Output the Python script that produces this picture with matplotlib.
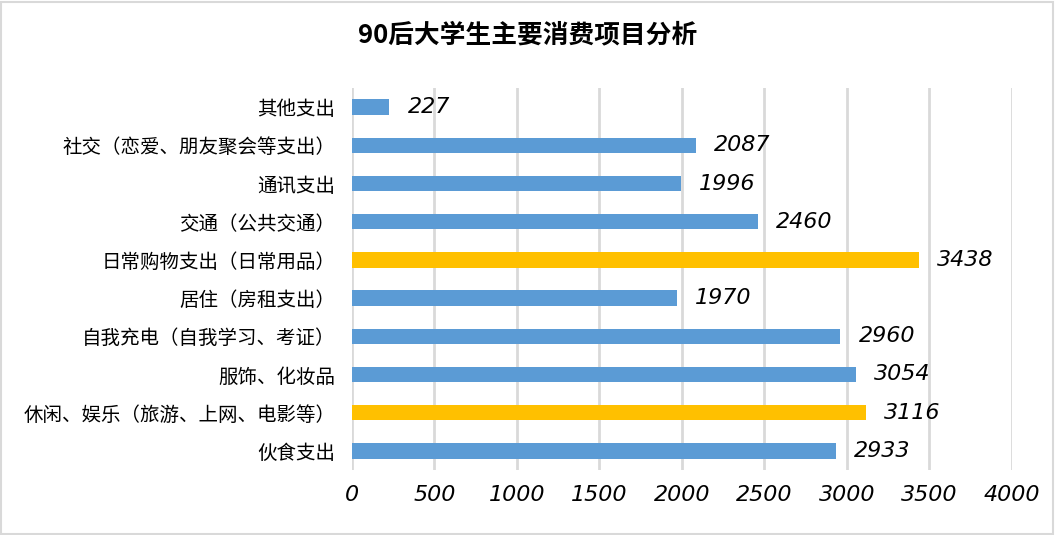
import matplotlib.pyplot as plt
from matplotlib.patches import Rectangle

plt.rcParams['font.family'] = ['Noto Sans CJK SC', 'DejaVu Sans']

categories = ["伙食支出", "休闲、娱乐（旅游、上网、电影等）", "服饰、化妆品",
              "自我充电（自我学习、考证）", "居住（房租支出）", "日常购物支出（日常用品）",
              "交通（公共交通）", "通讯支出", "社交（恋爱、朋友聚会等支出）", "其他支出"]
values = [2933, 3116, 3054, 2960, 1970, 3438, 2460, 1996, 2087, 227]
highlight = [False, True, False, False, False, True, False, False, False, False]
xticks = [0, 500, 1000, 1500, 2000, 2500, 3000, 3500, 4000]

blue = "#5b9bd5"
gold = "#ffc000"

fig = plt.figure(figsize=(10.55, 5.35), dpi=100)
ax = fig.add_axes([0.3336, 0.1215, 0.6256, 0.714])

colors = [gold if h else blue for h in highlight]
y = range(len(categories))
ax.barh(y, values, height=0.4, color=colors, zorder=3)

for i, v in enumerate(values):
    ax.annotate(str(v), (v, i), xytext=(13, 0), textcoords='offset points',
                va='center', ha='left', fontsize=16, style='italic',
                family=['DejaVu Sans'], color='black')

ax.set_xlim(0, 4000)
ax.set_ylim(-0.5, len(categories) - 0.5)
ax.set_xticks(xticks)
ax.set_xticklabels([str(t) for t in xticks], fontsize=16, style='italic', family=['DejaVu Sans'])
ax.set_yticks(list(y))
ax.set_yticklabels(categories, fontsize=14)
ax.tick_params(axis='both', length=0)
ax.tick_params(axis='x', pad=11)
ax.tick_params(axis='y', pad=12)
ax.grid(axis='x', color='#d9d9d9', linewidth=2, zorder=0)
for s in ax.spines.values():
    s.set_visible(False)

fig.text(0.5, 0.935, "90后大学生主要消费项目分析", ha='center', va='center',
         fontsize=18.5, fontweight='bold')

fig.patches.append(Rectangle((0.001, 0.002), 0.997, 0.995, transform=fig.transFigure,
                             fill=False, edgecolor='#d9d9d9', linewidth=1.5))

fig.savefig("out.png", dpi=100)
